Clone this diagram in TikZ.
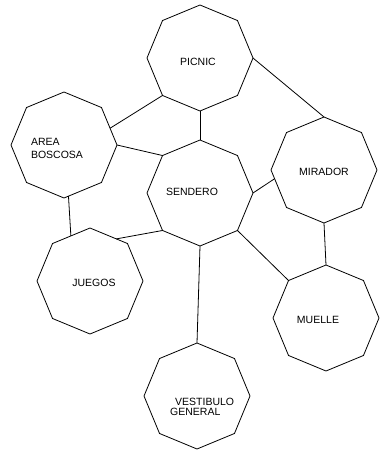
\documentclass[tikz,border=0pt]{standalone}
\usepackage{fontspec}
\setmainfont{Liberation Sans}
\usetikzlibrary{shapes.geometric}
\begin{document}
\begin{tikzpicture}[x=1pt,y=-1pt,
 oct/.style={draw, regular polygon, regular polygon sides=8, shape border rotate=22.5, minimum size=106pt, inner sep=0pt, outer sep=0pt, line width=0.8pt},
 lbl/.style={font=\fontsize{10.5}{13}\selectfont, align=left, inner sep=0pt},
 link/.style={line width=0.8pt}]
\useasboundingbox (0,0) rectangle (380,450);
\node[oct] (picnic) at (200,58) {};
\node[oct] (area) at (64,145) {};
\node[oct] (sendero) at (200,193) {};
\node[oct] (mirador) at (324,170) {};
\node[oct] (juegos) at (90,281) {};
\node[oct] (muelle) at (326,318) {};
\node[oct] (vestibulo) at (197,396) {};
\draw[link] (picnic.south) -- (sendero.north);
\draw[link] (picnic.225) -- (area.20);
\draw[link] (area.east) -- (sendero.135);
\draw[link] (area.-85) -- (juegos.113);
\draw[link] (juegos.58) -- (sendero.225);
\draw[link] (sendero.east) -- (mirador.190);
\draw[link] (picnic.east) -- (mirador.north);
\draw[link] (sendero.315) -- (muelle.135);
\draw[link] (mirador.south) -- (muelle.north);
\draw[link] (sendero.south) -- (vestibulo.north);
\node[lbl] (tpicnic) at (198,62) {PICNIC};
\node[lbl] (tarea) at (57,148) {AREA\\BOSCOSA};
\node[lbl] (tsendero) at (192,192) {SENDERO};
\node[lbl] (tmirador) at (324,172) {MIRADOR};
\node[lbl] (tjuegos) at (94,283) {JUEGOS};
\node[lbl] (tmuelle) at (318,320) {MUELLE};
\node[lbl,anchor=west] (tvest1) at (175,402) {VESTIBULO};
\node[lbl,anchor=west] (tvest2) at (170,412) {GENERAL};
\end{tikzpicture}
\end{document}
